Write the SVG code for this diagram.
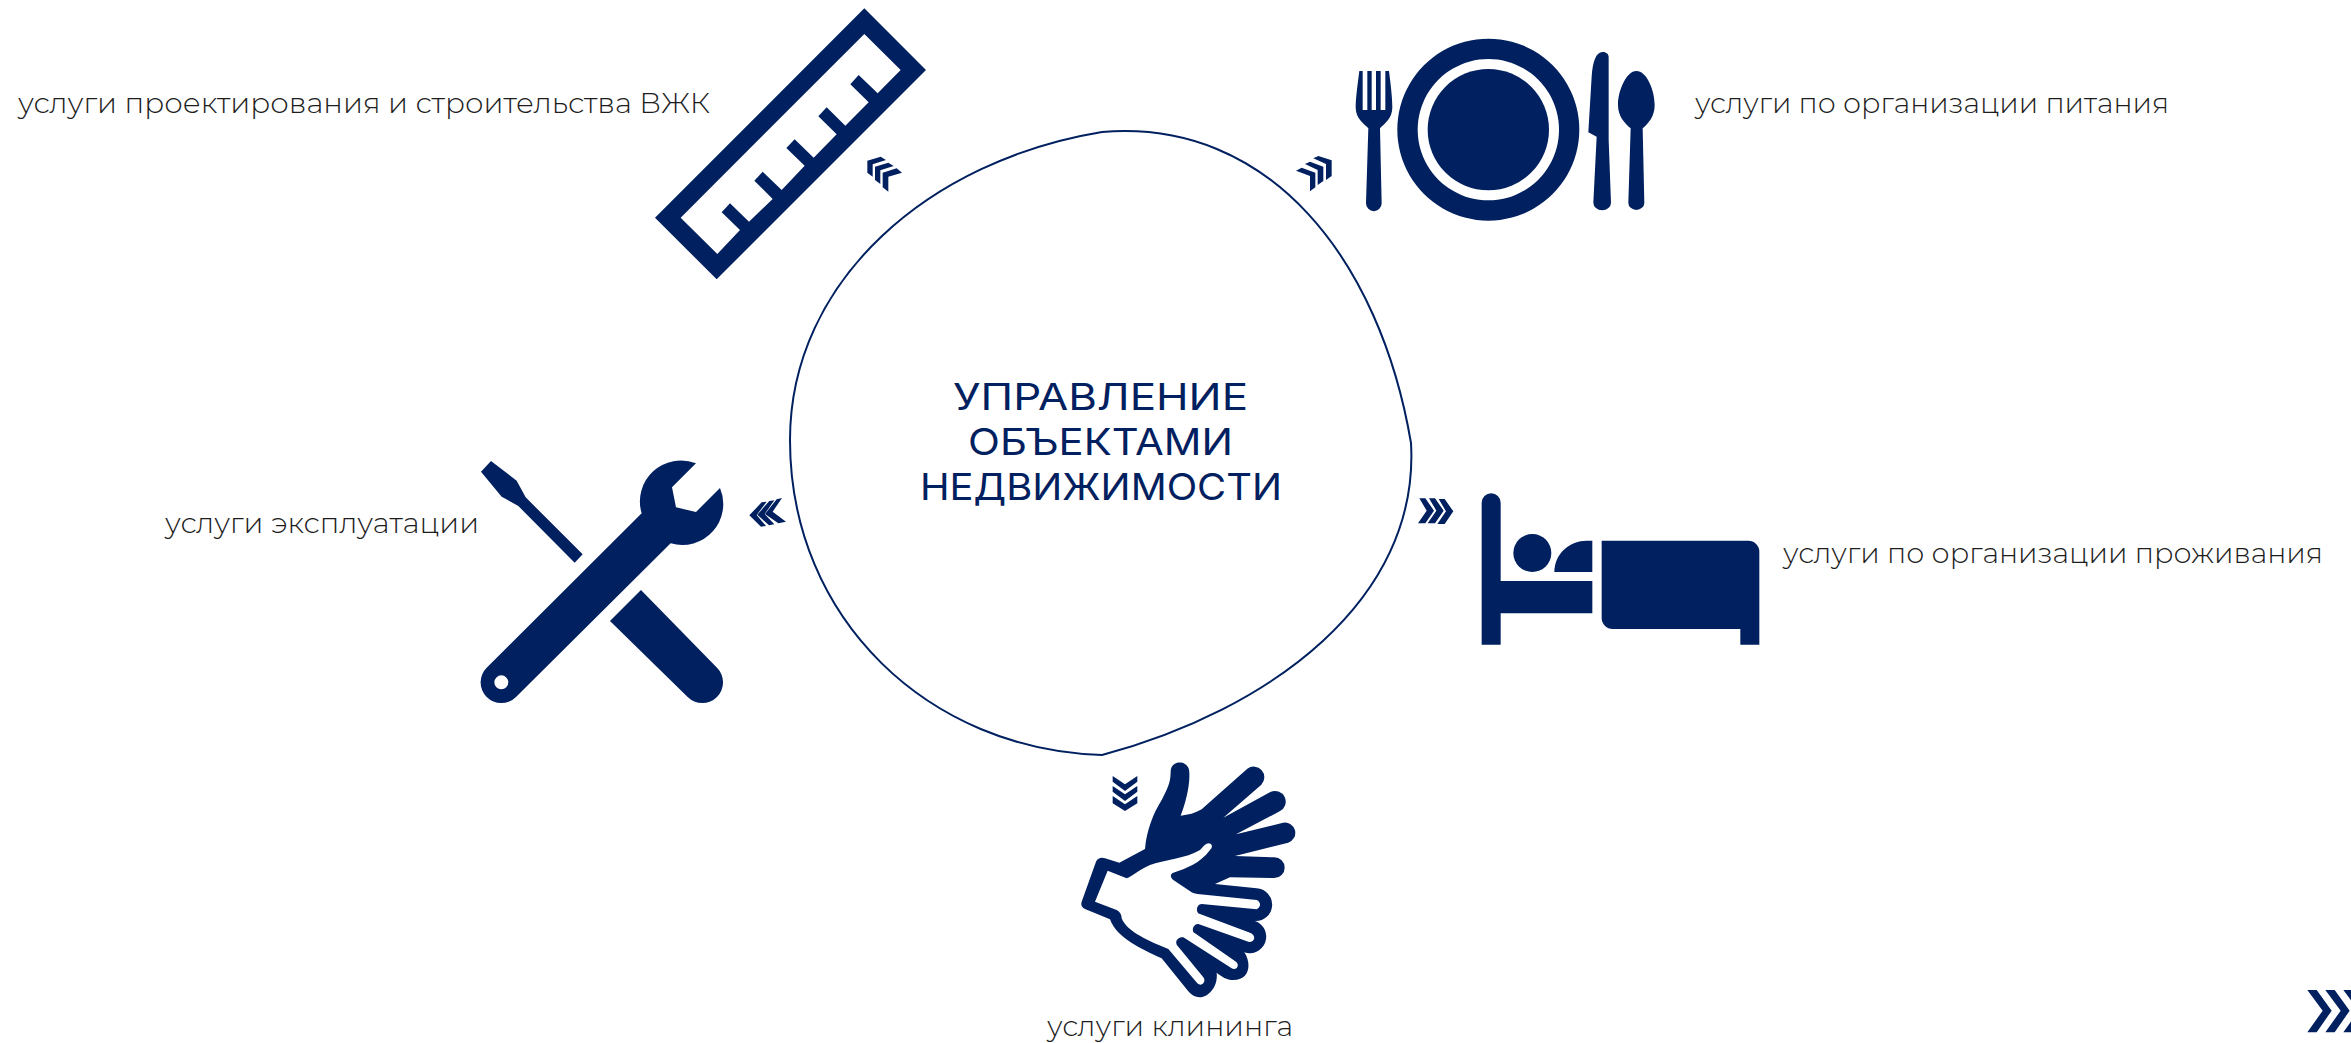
<svg xmlns="http://www.w3.org/2000/svg" width="2351" height="1043" viewBox="0 0 2351 1043">
<defs><style>
.n{fill:#012060}
.lb{font-family:"Montserrat","Inter","Liberation Sans",sans-serif;font-weight:300;font-size:29px;fill:#1d1d1d}
.tt{font-family:"Inter","Liberation Sans",sans-serif;font-weight:400;font-size:37px;fill:#012060;text-anchor:start}
</style></defs>
<rect width="2351" height="1043" fill="#fff"/>
<g id="center">
<path d="M1102,132 C1270,118 1380,260 1411,443 C1420,600 1270,710 1102,755 C930,750 790,620 790,440 C790,280 930,160 1102,132 Z" fill="#fff" stroke="#012060" stroke-width="2"/>
<text class="tt" x="953" y="410" textLength="295" lengthAdjust="spacingAndGlyphs">УПРАВЛЕНИЕ</text>
<text class="tt" x="968" y="455" textLength="265" lengthAdjust="spacingAndGlyphs">ОБЪЕКТАМИ</text>
<text class="tt" x="920" y="500" textLength="362" lengthAdjust="spacingAndGlyphs">НЕДВИЖИМОСТИ</text>
</g>
<g id="connectors" class="n">
<g transform="translate(630,0) scale(.33333)">
<polygon points="712,482 752,470 768,480 728,493 728,530 712,518"/>
<polygon points="735,500 775,488 791,498 751,511 751,552 735,540"/>
<polygon points="758,518 800,505 816,518 775,530 775,575 758,562"/>
</g>
<g transform="translate(1280,20) scale(.33333)">
<polygon points="100,415 115,408 155,421 155,468 138,480 138,432"/>
<polygon points="75,432 90,425 130,440 130,483 113,495 113,450"/>
<polygon points="48,452 65,443 106,458 106,502 90,514 90,468"/>
</g>
<g transform="translate(460,440) scale(.33333)">
<polygon points="868,226 905,187 920,185 890,225 918,258 903,260"/>
<polygon points="892,224 928,183 943,181 914,222 943,253 927,256"/>
<polygon points="915,222 950,178 966,174 938,215 978,245 955,250"/>
</g>
<g transform="translate(1400,470) scale(.33333)">
<polygon points="58,85 76,85 102,122 76,160 54,160 80,122"/>
<polygon points="87,85 105,85 131,122 105,160 83,160 109,122"/>
<polygon points="116,87 134,87 160,124 134,162 112,162 138,124"/>
</g>
<g transform="translate(1060,750) scale(.33333)">
<polygon points="158,78 195,103 232,78 232,95 195,123 158,95"/>
<polygon points="158,108 195,133 232,108 232,125 195,153 158,125"/>
<polygon points="158,138 195,163 232,138 232,160 195,183 158,160"/>
</g>
<g transform="translate(2280,970) scale(.33333)">
<polygon points="82,60 110,60 155,122 110,187 82,187 128,122"/>
<polygon points="136,60 164,60 209,122 164,187 136,187 182,122"/>
<polygon points="190,60 218,60 263,122 218,187 190,187 236,122"/>
</g>
</g>
<g id="node-design">
<path class="n" fill-rule="evenodd" transform="translate(630,0) scale(.33333)" d="M703,25 L888,210 L260,838 L75,653 Z M703,102 L152,653 L262,762 L330,690 L275,637 L300,610 L357,665 L428,597 L373,542 L398,515 L455,570 L524,497 L469,444 L494,418 L551,473 L620,403 L565,349 L590,322 L646,377 L716,307 L661,253 L686,225 L743,280 L812,210 Z"/>
<text class="lb" x="18" y="113" textLength="692" lengthAdjust="spacingAndGlyphs">услуги проектирования и строительства ВЖК</text>
</g>
<g id="node-food">
<g class="n" transform="translate(1280,20) scale(.33333)">
<path fill-rule="evenodd" d="M625,56 A273,273 0 1 1 624.9,56 Z M625,117 A212,212 0 1 0 625.1,117 Z"/>
<circle cx="625" cy="329" r="182"/>
<path d="M238,153 L248,153 L248,270 L262,270 L262,153 L275,153 L275,270 L288,270 L288,153 L302,153 L302,270 L316,270 L316,153 L327,153 C333,200 337,235 337,262 C337,295 315,310 300,325 L305,550 A23,23 0 0 1 258,550 L265,325 C250,310 227,295 227,262 C227,235 232,200 238,153 Z"/>
<path d="M986,112 L986,360 L993,548 A26,22 0 0 1 940,548 L950,350 L925,337 L935,170 C938,125 948,96 968,96 C980,96 986,103 986,112 Z"/>
<path d="M1069,153 C1100,153 1124,210 1124,255 C1124,290 1105,310 1088,325 L1093,548 A24,22 0 0 1 1045,548 L1052,325 C1035,310 1014,290 1014,255 C1014,210 1040,153 1069,153 Z"/>
</g>
<text class="lb" x="1695" y="113" textLength="474" lengthAdjust="spacingAndGlyphs">услуги по организации питания</text>
</g>
<g id="node-maintenance">
<g class="n" transform="translate(460,440) scale(.33333)">
<path fill-rule="evenodd" d="M708,70 L636,142 L648,202 L708,216 L780,144 A123,123 0 0 1 632,310 L168,771 A62,62 0 0 1 80,683 L545,220 A123,123 0 0 1 708,70 Z M145,727 A21,21 0 1 0 103,727 A21,21 0 1 0 145,727 Z"/>
<polygon points="93,63 170,122 197,172 368,343 344,368 175,198 125,170 63,95"/>
<path d="M543,450 L771,683 A62,62 0 0 1 683,771 L450,543 Z"/>
</g>
<text class="lb" x="165" y="533" textLength="314" lengthAdjust="spacingAndGlyphs">услуги эксплуатации</text>
</g>
<g id="node-accommodation">
<g class="n" transform="translate(1400,470) scale(.33333)">
<path d="M245,98 A28,28 0 0 1 302,98 L302,333 L577,333 L577,430 L302,430 L302,524 L245,524 Z"/>
<circle cx="397" cy="249" r="57"/>
<path d="M463,306 C463,250 510,212 560,212 L577,212 L577,306 Z"/>
<path d="M605,212 L1045,212 A33,33 0 0 1 1078,245 L1078,524 L1021,524 L1021,477 L638,477 A33,33 0 0 1 605,444 Z"/>
</g>
<text class="lb" x="1783" y="563" textLength="540" lengthAdjust="spacingAndGlyphs">услуги по организации проживания</text>
</g>
<g id="node-cleaning">
<path class="n" fill-rule="evenodd" transform="translate(1060,750) scale(.33333)" d="M332,65 C332,28 390,28 388,70 C390,110 375,165 362,197 C385,195 405,190 425,178 L562,56 A32,32 0 0 1 604,104 L490,203 L631,126 A32,32 0 0 1 659,184 L528,253 L669.5,218 A31,31 0 0 1 684.5,278 L525,318 L643,322 A31,31 0 0 1 643,384 L510,382 L465,402 L590,415 A49,49 0 0 1 585,513 A48,48 0 0 1 553,607 C575,640 570,690 520,690 C500,690 485,680 470,668 C475,715 440,742 420,742 C400,742 390,730 380,718 L305,625 C250,600 170,565 150,508 L75,477 C65,472 62,465 65,455 L108,335 C112,325 125,320 135,325 L178,338 L255,297 C260,240 280,190 305,150 C320,120 332,100 332,65 Z M143,362 L105,455 L170,480 C180,485 185,495 185,505 C200,545 270,575 325,597 L412,700 C425,712 440,695 430,682 L355,590 C342,580 350,560 370,562 L515,655 C530,662 540,645 528,635 L405,550 C392,545 400,520 415,522 L565,575 C585,580 590,555 570,548 L420,492 C405,488 410,462 425,462 L590,478 C605,470 602,455 590,450 L420,433 C410,432 400,430 395,427 L340,390 C330,382 330,372 340,368 C380,355 420,340 450,300 C458,292 458,282 447,280 C437,280 430,290 420,300 C380,325 310,330 270,345 C235,360 215,380 200,385 Z"/>
<text class="lb" x="1047" y="1036" textLength="246" lengthAdjust="spacingAndGlyphs">услуги клининга</text>
</g>
</svg>
